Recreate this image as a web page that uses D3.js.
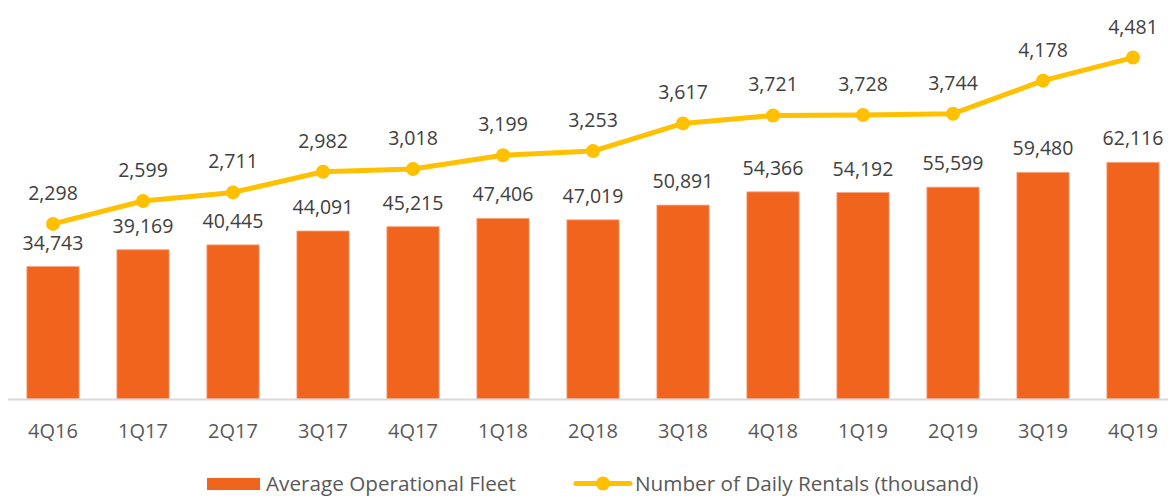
<!DOCTYPE html>
<html><head><meta charset="utf-8">
<script src="https://cdn.jsdelivr.net/npm/d3@7"></script>
<style>body{margin:0;background:#fff}svg{display:block}text{font-family:"Open Sans",sans-serif}</style>
</head><body><svg id="c" width="1168" height="496"></svg>
<script>
const categories = ["4Q16","1Q17","2Q17","3Q17","4Q17","1Q18","2Q18","3Q18","4Q18","1Q19","2Q19","3Q19","4Q19"];
const fleet = [34743,39169,40445,44091,45215,47406,47019,50891,54366,54192,55599,59480,62116];
const rentals = [2298,2599,2711,2982,3018,3199,3253,3617,3721,3728,3744,4178,4481];
const seriesNames = ["Average Operational Fleet","Number of Daily Rentals (thousand)"];

const svg = d3.select("#c");
const barColor = "#F0641E", lineColor = "#FFC000", textColor = "#404040";
const x = d3.scaleBand().domain(categories).range([8, 1178]).paddingInner(0.42).paddingOuter(0.21);
const yB = d3.scaleLinear().domain([0,100000]).range([399,18]);
const yL = d3.scaleLinear().domain([0,5000]).range([399,18]);
const fmt = d3.format(",");

svg.append("g").selectAll("rect").data(fleet).join("rect")
  .attr("x",(d,i)=>x(categories[i])).attr("width",x.bandwidth())
  .attr("y",d=>yB(d)).attr("height",d=>yB(0)-yB(d))
  .attr("fill",barColor).attr("stroke","#f7a27a").attr("stroke-width",0.8);

svg.append("line").attr("x1",8).attr("x2",1168).attr("y1",399.5).attr("y2",399.5)
  .attr("stroke","#d9d9d9").attr("stroke-width",2);

const axis = d3.axisBottom(x).tickSize(0).tickPadding(0);
const ga = svg.append("g").attr("transform","translate(0,399)").call(axis);
ga.select(".domain").remove();
ga.selectAll("text").attr("font-size",20).attr("fill","#595959").attr("dy",0).attr("y",39).attr("font-family","Open Sans");

svg.append("g").selectAll("text").data(fleet).join("text")
  .attr("x",(d,i)=>x(categories[i])+x.bandwidth()/2).attr("y",d=>yB(d)-17)
  .attr("text-anchor","middle").attr("font-size",19.5).attr("fill",textColor).text(d=>fmt(d));

const cx = (d,i)=>x(categories[i])+x.bandwidth()/2;
svg.append("path").datum(rentals)
  .attr("d",d3.line().x(cx).y(d=>yL(d)))
  .attr("fill","none").attr("stroke",lineColor).attr("stroke-width",5).attr("stroke-linejoin","round");
svg.append("g").selectAll("circle").data(rentals).join("circle")
  .attr("cx",cx).attr("cy",d=>yL(d)).attr("r",7).attr("fill",lineColor);
svg.append("g").selectAll("text").data(rentals).join("text")
  .attr("x",cx).attr("y",d=>yL(d)-24)
  .attr("text-anchor","middle").attr("font-size",19.5).attr("fill",textColor).text(d=>fmt(d));

// legend
const lg = svg.append("g");
lg.append("rect").attr("x",207).attr("y",478).attr("width",53).attr("height",12).attr("fill",barColor);
lg.append("text").attr("x",266).attr("y",491).attr("font-size",20.7).attr("fill","#595959").text(seriesNames[0]);
lg.append("line").attr("x1",576).attr("x2",630).attr("y1",483.5).attr("y2",483.5).attr("stroke",lineColor).attr("stroke-width",5).attr("stroke-linecap","round");
lg.append("circle").attr("cx",603).attr("cy",483.5).attr("r",7).attr("fill",lineColor);
lg.append("text").attr("x",635).attr("y",491).attr("font-size",20.7).attr("fill","#595959").text(seriesNames[1]);
</script></body></html>
